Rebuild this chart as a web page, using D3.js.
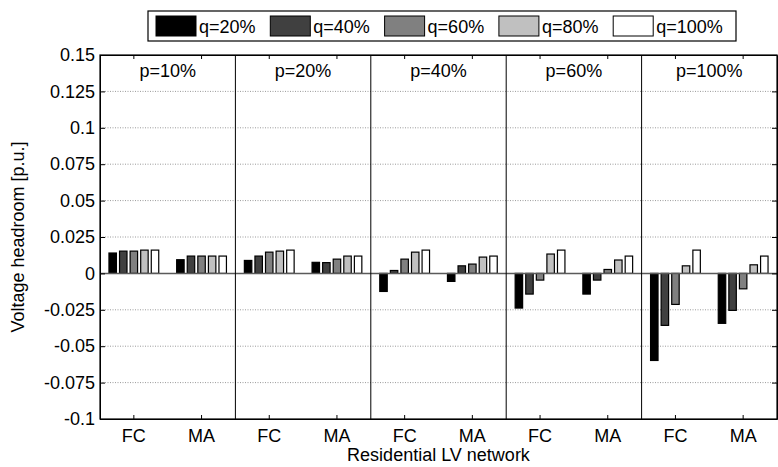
<!DOCTYPE html>
<html><head><meta charset="utf-8">
<script src="https://cdn.jsdelivr.net/npm/d3@7"></script>
<style>body{margin:0;background:#fff}svg{display:block;font-family:"Liberation Sans",Arial,sans-serif}</style>
</head><body><svg id="c" width="778" height="467"></svg>
<script>
const panels = ["p=10%","p=20%","p=40%","p=60%","p=100%"];
const networks = ["FC","MA"];
const series = ["q=20%","q=40%","q=60%","q=80%","q=100%"];
const colors = ["#000000","#404040","#808080","#c0c0c0","#ffffff"];
const q20  = [0.0140, 0.0094, 0.0089, 0.0076, -0.0124, -0.0055, -0.0238, -0.0142, -0.0598, -0.0343];
const q40  = [0.0153, 0.0119, 0.0119, 0.0074,  0.0020,  0.0052, -0.0142, -0.0046, -0.0357, -0.0254];
const q60  = [0.0153, 0.0119, 0.0146, 0.0098,  0.0098,  0.0064, -0.0046,  0.0027, -0.0213, -0.0106];
const q80  = [0.0160, 0.0119, 0.0153, 0.0119,  0.0146,  0.0112,  0.0133,  0.0092,  0.0052,  0.0059];
const q100 = [0.0160, 0.0119, 0.0160, 0.0119,  0.0160,  0.0119,  0.0160,  0.0119,  0.0160,  0.0119];
const yTicks = [0.15,0.125,0.1,0.075,0.05,0.025,0,-0.025,-0.05,-0.075,-0.1];
const yLabel = "Voltage headroom [p.u.]";
const xLabel = "Residential LV network";

const values = [q20,q40,q60,q80,q100];
const cats = [];
panels.forEach(p => networks.forEach(n => cats.push(p + "|" + n)));

const FS = 18;
const svg = d3.select("#c");
const L = 100, R = 777, T = 55, B = 419;
const x = d3.scaleBand().domain(cats).range([L, R]).paddingInner(0).paddingOuter(0);
const xs = d3.scaleBand().domain(series).range([0, x.bandwidth()]).paddingInner(0.2).paddingOuter(0.8);
const y = d3.scaleLinear().domain([-0.1, 0.15]).range([B, T]);

// grid
svg.append("g").selectAll("line").data(yTicks.filter(t => t !== 0.15 && t !== -0.1 && t !== 0)).join("line")
  .attr("x1", L).attr("x2", R).attr("y1", d => y(d)).attr("y2", d => y(d))
  .attr("stroke", "#9a9a9a").attr("stroke-width", 1).attr("stroke-dasharray", "1,1.5");

// bars
const g = svg.append("g");
cats.forEach((c, i) => {
  series.forEach((s, j) => {
    const v = values[j][i];
    g.append("rect")
      .attr("x", x(c) + xs(s) + 0.5)
      .attr("y", Math.min(y(v), y(0)))
      .attr("width", xs.bandwidth() - 1)
      .attr("height", Math.abs(y(v) - y(0)))
      .attr("fill", colors[j]).attr("stroke", "#000").attr("stroke-width", 1.2);
  });
});

// baseline at 0
svg.append("line").attr("x1", L).attr("x2", R).attr("y1", y(0)).attr("y2", y(0))
  .attr("stroke", "#5a5a5a").attr("stroke-width", 1.5);

// panel dividers
const divs = [2,4,6,8].map(k => x(cats[k]));
svg.append("g").selectAll("line").data(divs).join("line")
  .attr("x1", d => d).attr("x2", d => d).attr("y1", T).attr("y2", B)
  .attr("stroke", "#000").attr("stroke-width", 1);

// axes
const yAxisL = d3.axisLeft(y).tickValues(yTicks).tickSizeInner(-5).tickSizeOuter(0).tickPadding(5).tickFormat(d => String(+d.toFixed(3)));
const gl = svg.append("g").attr("transform", `translate(${L},0)`).call(yAxisL);
const yAxisR = d3.axisRight(y).tickValues(yTicks).tickSizeInner(-5).tickSizeOuter(0).tickFormat("");
const gr = svg.append("g").attr("transform", `translate(${R},0)`).call(yAxisR);
const xAxisB = d3.axisBottom(x).tickSizeInner(-4).tickSizeOuter(0).tickPadding(10).tickFormat(d => d.split("|")[1]);
const gb = svg.append("g").attr("transform", `translate(0,${B})`).call(xAxisB);
const xAxisT = d3.axisTop(x).tickSizeInner(-4).tickSizeOuter(0).tickFormat("");
const gt = svg.append("g").attr("transform", `translate(0,${T})`).call(xAxisT);
[gl, gr, gb, gt].forEach(a => {
  a.selectAll("text").attr("font-size", FS).attr("fill", "#000").attr("font-family", "Liberation Sans, Arial, sans-serif");
  a.selectAll("line,path").attr("stroke", "#000");
});
// box
svg.append("rect").attr("x", L).attr("y", T).attr("width", R - L).attr("height", B - T)
  .attr("fill", "none").attr("stroke", "#000").attr("stroke-width", 1.2);

// panel labels
svg.append("g").selectAll("text").data(panels).join("text")
  .attr("x", (d, i) => (x(cats[2*i]) + x(cats[2*i+1]) + x.bandwidth()) / 2)
  .attr("y", 77).attr("text-anchor", "middle").attr("font-size", FS).text(d => d);

// axis titles
svg.append("text").attr("x", (L + R) / 2).attr("y", 461).attr("text-anchor", "middle").attr("font-size", FS).text(xLabel);
svg.append("text").attr("transform", `translate(24,${(T + B) / 2}) rotate(-90)`).attr("text-anchor", "middle").attr("font-size", FS).text(yLabel);

// legend
const lg = svg.append("g");
lg.append("rect").attr("x", 148).attr("y", 11).attr("width", 588).attr("height", 30).attr("fill", "#fff").attr("stroke", "#000").attr("stroke-width", 1.2);
series.forEach((s, j) => {
  const lx = 156 + j * 114.3;
  lg.append("rect").attr("x", lx).attr("y", 16).attr("width", 40).attr("height", 20).attr("fill", colors[j]).attr("stroke", "#000").attr("stroke-width", 1);
  lg.append("text").attr("x", lx + 43).attr("y", 33).attr("font-size", FS).text(s);
});
</script></body></html>
